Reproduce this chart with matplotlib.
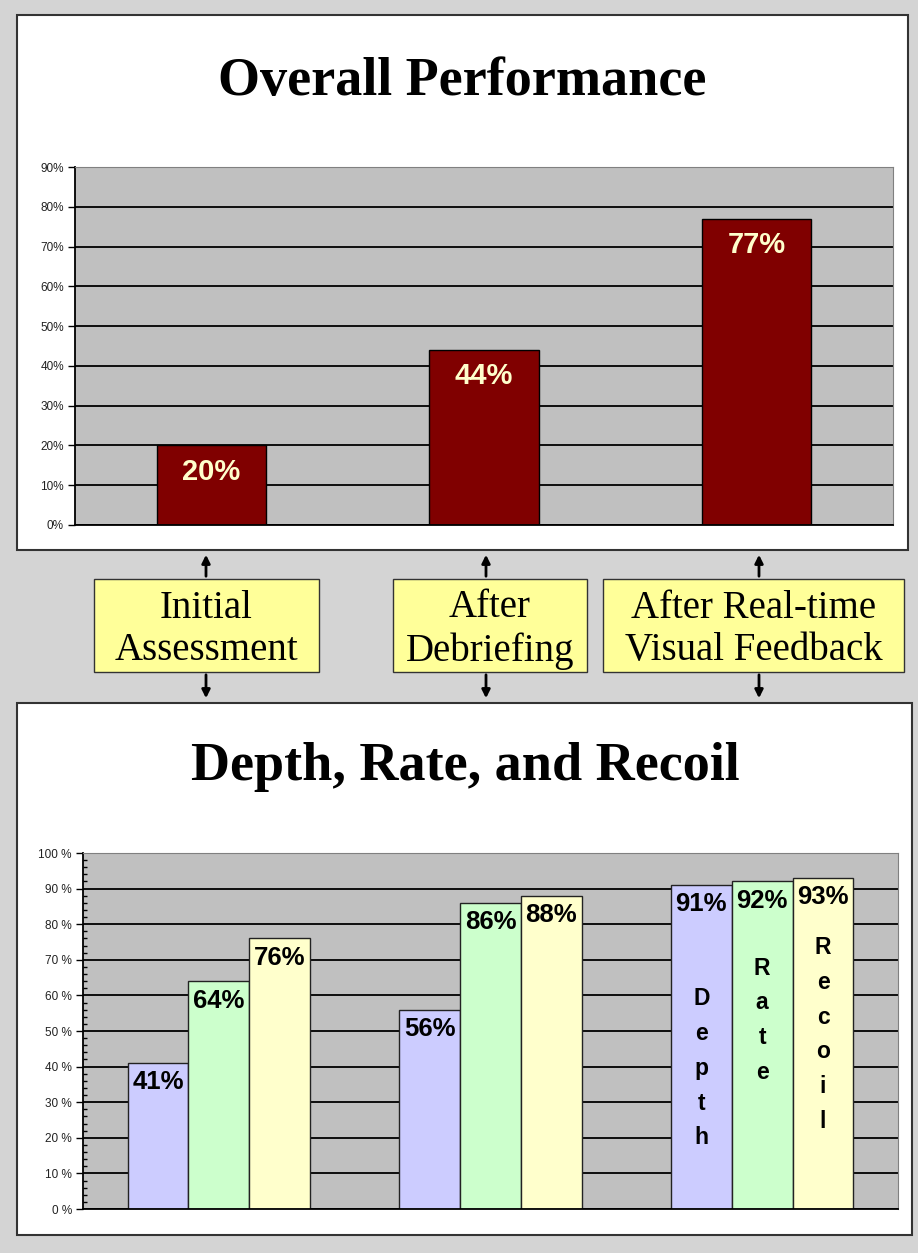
import matplotlib.pyplot as plt
from matplotlib.patches import Rectangle, FancyArrowPatch
from matplotlib.ticker import MultipleLocator, FuncFormatter

W, H = 918, 1253

# data
stages = ['Initial\nAssessment', 'After\nDebriefing', 'After Real-time\nVisual Feedback']
overall = [20, 44, 77]
metrics = ['Depth', 'Rate', 'Recoil']
depth = [41, 56, 91]
rate = [64, 86, 92]
recoil = [76, 88, 93]

metric_colors = ['#ccccff', '#ccffcc', '#ffffcc']
word_y = [39.5, 53, 49]   # where the stacked words sit in the last group


def frac(x0, y0, x1, y1):
    # pixel box (top-left origin) -> figure fraction
    return [x0 / W, 1 - y1 / H, (x1 - x0) / W, (y1 - y0) / H]


fig = plt.figure(figsize=(W / 100, H / 100), dpi=100)
fig.patch.set_facecolor('#d4d4d4')

bg = fig.add_axes([0, 0, 1, 1], zorder=0)
bg.set_xlim(0, W)
bg.set_ylim(H, 0)
bg.axis('off')

# white panels
for x0, y0, x1, y1 in [(17, 15, 908, 550), (17, 703, 912, 1235)]:
    bg.add_patch(Rectangle((x0, y0), x1 - x0, y1 - y0, facecolor='white',
                           edgecolor='#333333', lw=1.5))

bg.text(462, 82, 'Overall Performance', ha='center', va='center',
        family='Liberation Serif', weight='bold', fontsize=39)
bg.text(465, 767, 'Depth, Rate, and Recoil', ha='center', va='center',
        family='Liberation Serif', weight='bold', fontsize=39)

# stage boxes with arrows
boxes = [(94, 579, 319, 672), (393, 579, 587, 672), (603, 579, 904, 672)]
arrow_x = [206, 486, 759]
for (x0, y0, x1, y1), lab, ax_ in zip(boxes, stages, arrow_x):
    bg.add_patch(Rectangle((x0, y0), x1 - x0, y1 - y0, facecolor='#ffff99',
                           edgecolor='#333333', lw=1))
    bg.text((x0 + x1) / 2, (y0 + y1) / 2 + 4, lab, ha='center', va='center',
            family='Liberation Serif', fontsize=28, linespacing=1.2)
    bg.add_patch(FancyArrowPatch((ax_, y0), (ax_, 552), arrowstyle='-|>',
                                 mutation_scale=12, lw=2, color='black'))
    bg.add_patch(FancyArrowPatch((ax_, y1), (ax_, 701), arrowstyle='-|>',
                                 mutation_scale=12, lw=2, color='black'))

tick_font = dict(family='Liberation Sans', size=8.5, color='#222222')

# ---- top chart
ax1 = fig.add_axes(frac(75, 167, 893, 525), zorder=1)
ax1.set_facecolor('#c0c0c0')
bars = ax1.bar(range(len(overall)), overall, width=0.4, color='#800000',
               edgecolor='black', lw=1)
ax1.set_xlim(-0.5, 2.5)
ax1.set_ylim(0, 90)
ax1.yaxis.set_major_locator(MultipleLocator(10))
ax1.yaxis.set_major_formatter(FuncFormatter(lambda v, p: f'{v:.0f}%'))
ax1.grid(axis='y', color='black', lw=1.3)
ax1.set_axisbelow(True)
ax1.set_xticks([])
ax1.tick_params(axis='y', length=5, width=1, pad=3)
for t in ax1.get_yticklabels():
    t.set(**tick_font)
for s in ['top', 'right']:
    ax1.spines[s].set_color('#808080')
for s in ['left', 'bottom']:
    ax1.spines[s].set_color('black')
    ax1.spines[s].set_linewidth(1.3)
for b, v in zip(bars, overall):
    ax1.annotate(f'{v}%', (b.get_x() + b.get_width() / 2, v), xytext=(0, -19),
                 textcoords='offset points', ha='center', va='center',
                 color='#ffffcc', fontsize=21, weight='bold',
                 family='Liberation Sans')

# ---- bottom chart
ax2 = fig.add_axes(frac(83, 853, 898, 1209), zorder=1)
ax2.set_facecolor('#c0c0c0')
bw = 0.224
series = [depth, rate, recoil]
groups = []
for i, (vals, col) in enumerate(zip(series, metric_colors)):
    xs = [k + (i - 1) * bw for k in range(len(vals))]
    bb = ax2.bar(xs, vals, width=bw, color=col, edgecolor='#222222', lw=1)
    groups.append(bb)
    for b, v in zip(bb, vals):
        ax2.annotate(f'{v}%', (b.get_x() + b.get_width() / 2, v), xytext=(0, -14),
                     textcoords='offset points', ha='center', va='center',
                     color='black', fontsize=18.5, weight='bold',
                     family='Liberation Sans')
ax2.set_xlim(-0.5, 2.5)
ax2.set_ylim(0, 100)
ax2.yaxis.set_major_locator(MultipleLocator(10))
ax2.yaxis.set_minor_locator(MultipleLocator(2))
ax2.yaxis.set_major_formatter(FuncFormatter(lambda v, p: f'{v:.0f} %'))
ax2.grid(axis='y', which='major', color='black', lw=1.3)
ax2.set_axisbelow(True)
ax2.set_xticks([])
ax2.tick_params(axis='y', which='major', length=5, width=1, pad=3)
ax2.tick_params(axis='y', which='minor', direction='in', length=3, width=1)
for t in ax2.get_yticklabels():
    t.set(**tick_font)
for s in ['top', 'right']:
    ax2.spines[s].set_color('#808080')
for s in ['left', 'bottom']:
    ax2.spines[s].set_color('black')
    ax2.spines[s].set_linewidth(1.3)

# stacked metric names in the last group
for bb, word, wy in zip(groups, metrics, word_y):
    b = bb[-1]
    ax2.text(b.get_x() + b.get_width() / 2, wy, '\n'.join(word), ha='center',
             va='center', fontsize=16.5, weight='bold', family='Liberation Sans',
             linespacing=1.65)

fig.savefig('out.png', dpi=100, facecolor=fig.get_facecolor())
